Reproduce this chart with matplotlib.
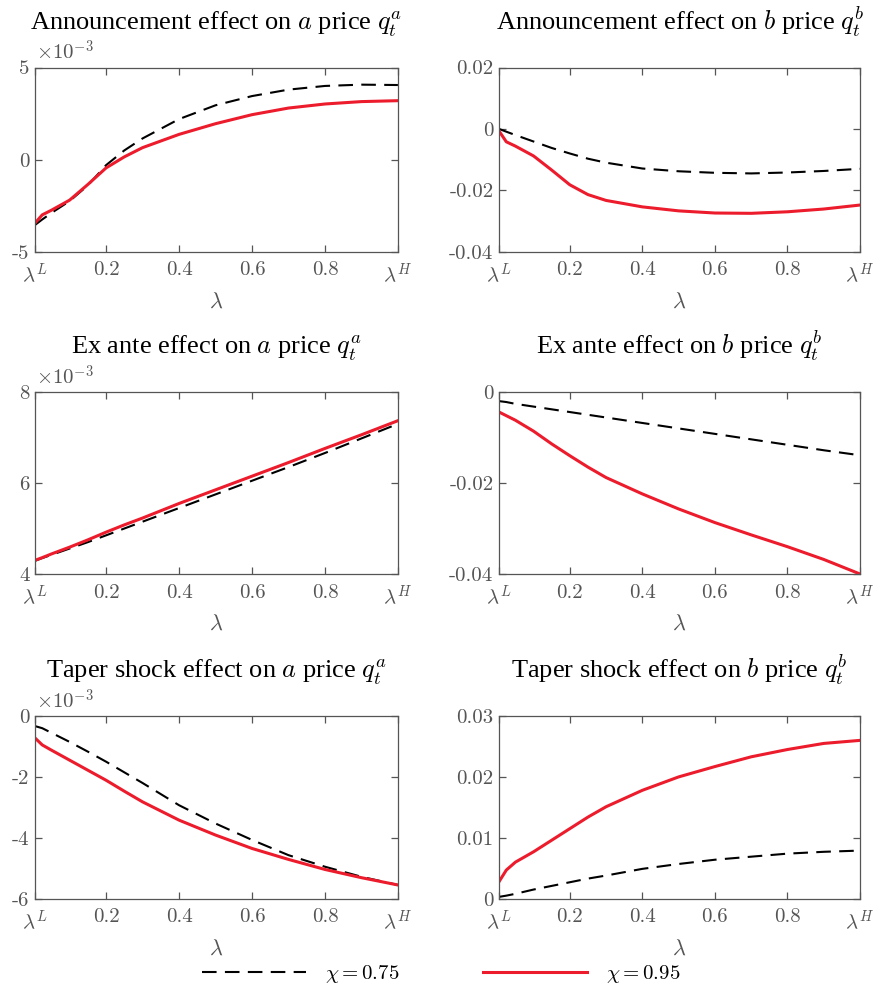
import matplotlib
matplotlib.use('Agg')
import matplotlib.pyplot as plt

plt.rcParams['mathtext.fontset'] = 'cm'
plt.rcParams['axes.unicode_minus'] = False

# lambda grid (lambda^L ... lambda^H)
lam = [0.005, 0.025, 0.05, 0.1, 0.15, 0.2, 0.25, 0.3, 0.4, 0.5, 0.6, 0.7, 0.8, 0.9, 1.0]

# announcement effect, a price (x 1e-3)
ann_a_75 = [-3.55, -3.25, -2.90, -2.25, -1.40, -0.30, 0.50, 1.15, 2.20, 2.95, 3.45, 3.80, 4.00, 4.07, 4.05]
ann_a_95 = [-3.45, -3.00, -2.75, -2.20, -1.35, -0.45, 0.15, 0.65, 1.37, 1.95, 2.44, 2.80, 3.02, 3.15, 3.20]
# announcement effect, b price
ann_b_75 = [0.0, -0.0009, -0.0020, -0.0041, -0.0062, -0.0080, -0.0097, -0.0110, -0.0129, -0.0138,
            -0.0143, -0.0145, -0.0142, -0.0137, -0.0130]
ann_b_95 = [-0.0007, -0.0042, -0.0056, -0.0088, -0.0134, -0.0182, -0.0214, -0.0233, -0.0254, -0.0267,
            -0.0274, -0.0275, -0.0270, -0.0261, -0.0248]
# ex ante effect, a price (x 1e-3)
exa_a_75 = [4.29, 4.35, 4.42, 4.56, 4.70, 4.85, 5.00, 5.15, 5.45, 5.75, 6.05, 6.35, 6.66, 6.98, 7.30]
exa_a_95 = [4.30, 4.36, 4.44, 4.59, 4.75, 4.92, 5.08, 5.23, 5.55, 5.85, 6.15, 6.45, 6.76, 7.06, 7.37]
# ex ante effect, b price
exa_b_75 = [-0.0020, -0.0022, -0.0026, -0.0032, -0.0038, -0.0044, -0.0050, -0.0056, -0.0068, -0.0080,
            -0.0092, -0.0104, -0.0116, -0.0128, -0.0139]
exa_b_95 = [-0.0044, -0.0052, -0.0062, -0.0086, -0.0114, -0.0140, -0.0165, -0.0188, -0.0224, -0.0257,
            -0.0287, -0.0314, -0.0340, -0.0368, -0.0400]
# taper shock effect, a price (x 1e-3)
tap_a_75 = [-0.33, -0.40, -0.55, -0.85, -1.17, -1.50, -1.85, -2.20, -2.93, -3.53, -4.07, -4.57, -4.95, -5.28, -5.55]
tap_a_95 = [-0.72, -0.95, -1.12, -1.45, -1.78, -2.11, -2.47, -2.82, -3.42, -3.91, -4.35, -4.71, -5.04, -5.31, -5.55]
# taper shock effect, b price
tap_b_75 = [0.0003, 0.0005, 0.0008, 0.0015, 0.0021, 0.0027, 0.0033, 0.0038, 0.0049, 0.0057,
            0.0064, 0.0069, 0.0074, 0.0077, 0.0079]
tap_b_95 = [0.0028, 0.0047, 0.0060, 0.0077, 0.0096, 0.0115, 0.0134, 0.0151, 0.0178, 0.0200,
            0.0217, 0.0233, 0.0245, 0.0255, 0.0260]

titles = [r'Announcement effect on $a$ price $q_t^a$', r'Announcement effect on $b$ price $q_t^b$',
          r'Ex ante effect on $a$ price $q_t^a$', r'Ex ante effect on $b$ price $q_t^b$',
          r'Taper shock effect on $a$ price $q_t^a$', r'Taper shock effect on $b$ price $q_t^b$']
series = [(ann_a_75, ann_a_95), (ann_b_75, ann_b_95), (exa_a_75, exa_a_95),
          (exa_b_75, exa_b_95), (tap_a_75, tap_a_95), (tap_b_75, tap_b_95)]
yticks = [[-5, 0, 5], [-0.04, -0.02, 0, 0.02], [4, 6, 8], [-0.04, -0.02, 0],
          [-6, -4, -2, 0], [0, 0.01, 0.02, 0.03]]
yticklabels = [['-5', '0', '5'], ['-0.04', '-0.02', '0', '0.02'], ['4', '6', '8'],
               ['-0.04', '-0.02', '0'], ['-6', '-4', '-2', '0'], ['0', '0.01', '0.02', '0.03']]
scaled = [True, False, True, False, True, False]
xticks = [lam[0], 0.2, 0.4, 0.6, 0.8, lam[-1]]
xticklabels = [r'$\lambda^L$', '0.2', '0.4', '0.6', '0.8', r'$\lambda^H$']
chi = ['0.75', '0.95']

gray = '#555555'
red = '#EC1C2D'

fig = plt.figure(figsize=(8.74, 9.96), dpi=100)
lefts = [0.040, 0.571]
widths = [0.4153, 0.4130]
bottoms = [0.7473, 0.4237, 0.0977]
heights = [0.1849, 0.1827, 0.1834]

for i in range(6):
    r, c = i // 2, i % 2
    ax = fig.add_axes([lefts[c], bottoms[r], widths[c], heights[r]])
    y75, y95 = series[i]
    l1, = ax.plot(lam, y75, color='black', lw=1.5, dashes=(7, 4))
    l2, = ax.plot(lam, y95, color=red, lw=2.2)
    ax.set_xlim(lam[0], lam[-1])
    ax.set_ylim(yticks[i][0], yticks[i][-1])
    ax.set_xticks(xticks)
    ax.set_xticklabels(xticklabels, fontfamily='cmr10', fontsize=15, color=gray)
    ax.set_yticks(yticks[i])
    ax.set_yticklabels(yticklabels[i], fontfamily='cmr10', fontsize=15, color=gray)
    ax.tick_params(direction='in', top=True, right=True, length=5, width=0.9, color=gray, pad=4)
    ax.tick_params(axis='x', pad=7)
    for s in ax.spines.values():
        s.set_color(gray)
        s.set_linewidth(0.9)
    ax.set_xlabel(r'$\lambda$', fontsize=16, color=gray, labelpad=4)
    ax.set_title(titles[i], fontsize=19, fontfamily='Liberation Serif', pad=27)
    if scaled[i]:
        ax.text(0.003, 1.02, r'$\times10^{-3}$', transform=ax.transAxes, fontsize=15,
                color=gray, ha='left', va='bottom')

fig.legend([l1, l2], [r'$\chi = %s$' % chi[0], r'$\chi = %s$' % chi[1]], loc='lower center',
           bbox_to_anchor=(0.505, -0.008), ncol=2, frameon=False, fontsize=15,
           handlelength=5.0, handletextpad=0.9, columnspacing=4.0)

fig.savefig('out.png', dpi=100)
